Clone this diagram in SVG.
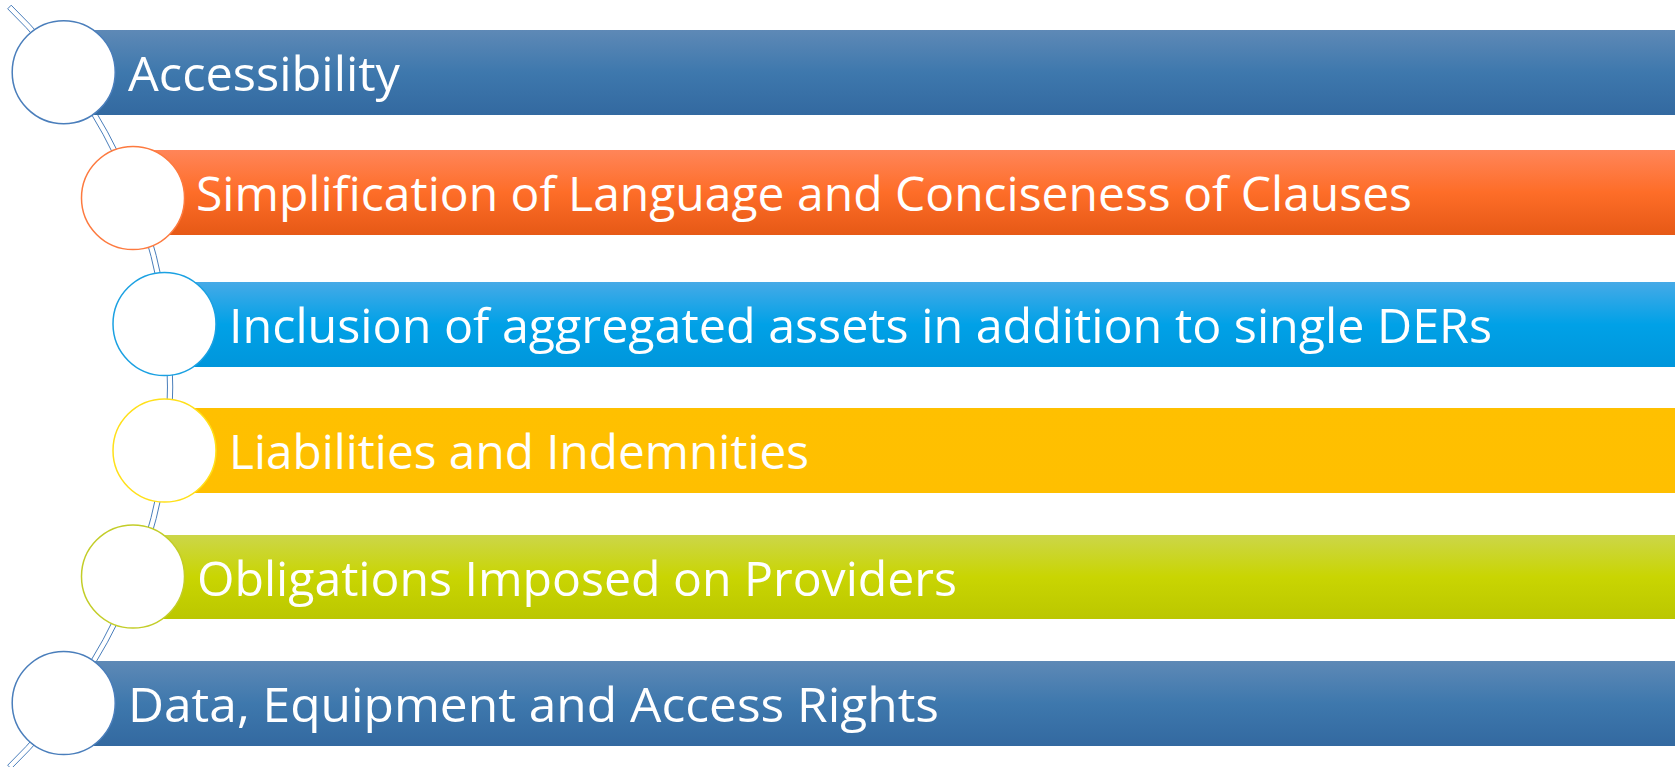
<svg xmlns="http://www.w3.org/2000/svg" width="1675" height="767" viewBox="0 0 1675 767">
<defs>
<linearGradient id="gBlue" x1="0" y1="0" x2="0" y2="1">
<stop offset="0" stop-color="#5e89b6"/><stop offset="0.5" stop-color="#3e78ad"/><stop offset="1" stop-color="#3369a0"/>
</linearGradient>
<linearGradient id="gOrange" x1="0" y1="0" x2="0" y2="1">
<stop offset="0" stop-color="#ff8559"/><stop offset="0.5" stop-color="#fe6d28"/><stop offset="1" stop-color="#e65916"/>
</linearGradient>
<linearGradient id="gSky" x1="0" y1="0" x2="0" y2="1">
<stop offset="0" stop-color="#46aae7"/><stop offset="0.5" stop-color="#00a1e7"/><stop offset="1" stop-color="#0096db"/>
</linearGradient>
<linearGradient id="gYellow" x1="0" y1="0" x2="0" y2="1">
<stop offset="0" stop-color="#ffc000"/><stop offset="1" stop-color="#ffbf00"/>
</linearGradient>
<linearGradient id="gGreen" x1="0" y1="0" x2="0" y2="1">
<stop offset="0" stop-color="#ccd649"/><stop offset="0.5" stop-color="#c9d502"/><stop offset="1" stop-color="#bbc700"/>
</linearGradient>
</defs>
<style>
.lbl{font-family:"Open Sans","Noto Sans","DejaVu Sans",sans-serif;font-size:48px;fill:#ffffff;dominant-baseline:central}
.dot{fill:#ffffff;stroke-width:1.5}
.tube{fill:#ffffff;stroke:#4a7ebb;stroke-width:1}
</style>
<g id="connectors">
<path class="tube" d="M 11.2 5.2 A 532 532 0 0 1 11.2 768.8 L 7.7 765.2 A 527.5 527.5 0 0 0 7.7 8.8 Z"/>
</g>
<g id="node1">
<rect x="64" y="30" width="1611" height="85" fill="url(#gBlue)"/>
<circle class="dot" cx="63.7" cy="72.2" r="51.5" stroke="#4a7ebb"/>
<text class="lbl" x="128" y="72.5" textLength="272" lengthAdjust="spacingAndGlyphs">Accessibility</text>
</g>
<g id="node2">
<rect x="133" y="150" width="1542" height="85" fill="url(#gOrange)"/>
<circle class="dot" cx="133" cy="198" r="51.5" stroke="#fd7a3f"/>
<text class="lbl" x="196" y="192.5" textLength="1216" lengthAdjust="spacingAndGlyphs">Simplification of Language and Conciseness of Clauses</text>
</g>
<g id="node3">
<rect x="165" y="282" width="1510" height="85" fill="url(#gSky)"/>
<circle class="dot" cx="164.5" cy="324" r="51.5" stroke="#1ba1e2"/>
<text class="lbl" x="229" y="324.5" textLength="1263" lengthAdjust="spacingAndGlyphs">Inclusion of aggregated assets in addition to single DERs</text>
</g>
<g id="node4">
<rect x="165" y="408" width="1510" height="85" fill="url(#gYellow)"/>
<circle class="dot" cx="164.5" cy="450.5" r="51.5" stroke="#ffe01a"/>
<text class="lbl" x="229" y="450.5" textLength="580" lengthAdjust="spacingAndGlyphs">Liabilities and Indemnities</text>
</g>
<g id="node5">
<rect x="133" y="535" width="1542" height="84" fill="url(#gGreen)"/>
<circle class="dot" cx="133" cy="576.5" r="51.5" stroke="#c3cd28"/>
<text class="lbl" x="197" y="577" textLength="760" lengthAdjust="spacingAndGlyphs">Obligations Imposed on Providers</text>
</g>
<g id="node6">
<rect x="64" y="661" width="1611" height="85" fill="url(#gBlue)"/>
<circle class="dot" cx="63.7" cy="703" r="51.5" stroke="#4a7ebb"/>
<text class="lbl" x="128" y="703.5" textLength="811" lengthAdjust="spacingAndGlyphs">Data, Equipment and Access Rights</text>
</g>
</svg>
